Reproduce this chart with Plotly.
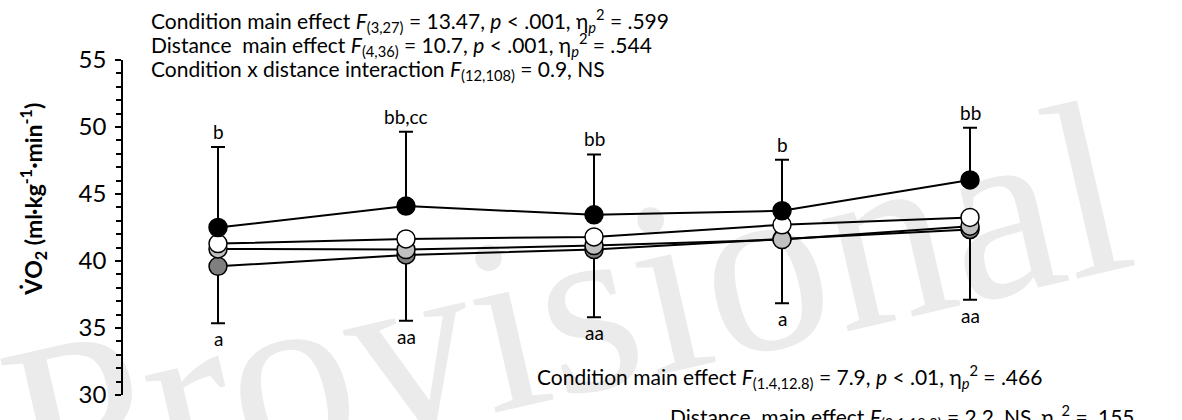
import plotly.graph_objects as go

# ---- data ----
distance_idx = [0, 1, 2, 3, 4]
cond_black = [42.5, 44.1, 43.45, 43.75, 46.05]
cond_white = [41.3, 41.65, 41.8, 42.7, 43.25]
cond_light = [40.9, 40.85, 41.15, 41.6, 42.6]
cond_dark = [39.6, 40.45, 40.85, 41.65, 42.35]
err_upper = [6.0, 5.55, 4.5, 3.8, 3.9]     # upper SD (black series)
err_lower = [4.25, 4.9, 5.05, 4.8, 5.25]    # lower SD (dark grey series)
labels_above = ["b", "bb,cc", "bb", "b", "bb"]
labels_below = ["a", "aa", "aa", "a", "aa"]
y_ticks = [30, 35, 40, 45, 50, 55]

W, H = 1182, 420
L, R, T, B = 123, 62, 60, 15
PW, PH = W - L - R, H - T - B
FONT = "Lato"


def px(x):
    return (x - L) / PW


def py(y):
    return (H - B - y) / PH


fig = go.Figure()

series = [
    (cond_dark, "#7f7f7f", dict(type="data", symmetric=False, array=[0] * 5, arrayminus=err_lower)),
    (cond_light, "#c0c0c0", None),
    (cond_white, "#ffffff", None),
    (cond_black, "#000000", dict(type="data", symmetric=False, array=err_upper, arrayminus=[0] * 5)),
]
for vals, col, err in series:
    tr = go.Scatter(
        x=distance_idx, y=vals, mode="lines+markers",
        line=dict(color="black", width=2),
        marker=dict(size=18, color=col, line=dict(color="black", width=1.5)),
        showlegend=False,
    )
    if err is not None:
        err.update(color="black", thickness=2, width=7)
        tr.error_y = err
    fig.add_trace(tr)

# letters above / below error bars
for i in distance_idx:
    top = cond_black[i] + err_upper[i]
    bot = cond_dark[i] - err_lower[i]
    fig.add_annotation(x=i, y=top, text=labels_above[i], showarrow=False,
                       yanchor="bottom", yshift=2, font=dict(family=FONT, size=19, color="black"))
    fig.add_annotation(x=i, y=bot, text=labels_below[i], showarrow=False,
                       yanchor="top", yshift=-2, font=dict(family=FONT, size=19, color="black"))

eta = "η<sub><i>p</i></sub><sup>2</sup>"
top_lines = [
    f"Condition main effect <i>F</i><sub>(3,27)</sub> = 13.47, <i>p</i> < .001, {eta} = .599",
    f"Distance  main effect <i>F</i><sub>(4,36)</sub> = 10.7, <i>p</i> < .001, {eta} = .544",
    "Condition x distance interaction <i>F</i><sub>(12,108)</sub> = 0.9, NS",
]
for k, txt in enumerate(top_lines):
    fig.add_annotation(xref="paper", yref="paper", x=px(149), y=py(19 + 25.5 * k), text=txt,
                       showarrow=False, xanchor="left", yanchor="middle",
                       font=dict(family=FONT, size=21, color="black"))

fig.add_annotation(xref="paper", yref="paper", x=px(535), y=py(386),
                   text=f"Condition main effect <i>F</i><sub>(1.4,12.8)</sub> = 7.9, <i>p</i> < .01, {eta} = .466",
                   showarrow=False, xanchor="left", yanchor="middle",
                   font=dict(family=FONT, size=21, color="black"))
fig.add_annotation(xref="paper", yref="paper", x=px(668), y=py(409),
                   text=f"Distance  main effect <i>F</i><sub>(2.1,18.9)</sub> = 2.2, NS, {eta} = .155",
                   showarrow=False, xanchor="left", yanchor="top",
                   font=dict(family=FONT, size=21, color="black"))

# y-axis title
fig.add_annotation(xref="paper", yref="paper", x=px(33), y=py(204), textangle=-90,
                   text="<b>V̇O<sub>2</sub> (ml·kg<sup>-1</sup>·min<sup>-1</sup>)</b>",
                   showarrow=False, xanchor="center", yanchor="middle",
                   font=dict(family=FONT, size=23, color="black"))

# watermark (behind the data)
fig.add_shape(type="rect", xref="paper", yref="paper",
              x0=px(360), x1=px(760), y0=py(390), y1=py(190),
              line=dict(width=0), fillcolor="rgba(0,0,0,0)", layer="below",
              label=dict(text="Provisional", textangle=-13, textposition="middle center",
                         font=dict(family="Liberation Serif", size=250, color="#ebebeb")))

fig.update_xaxes(range=[-95 / 188, (PW - 95) / 188], visible=False)
fig.update_yaxes(
    range=[30, 55], tickvals=y_ticks, ticks="outside", ticklen=6, tickwidth=1.5,
    tickcolor="black", showline=True, linecolor="black", linewidth=1.5,
    showgrid=False, zeroline=False, ticklabelstandoff=4,
    tickfont=dict(family=FONT, size=24, color="black"),
    minor=dict(dtick=1, ticks="outside", ticklen=5, tickwidth=1.5, tickcolor="black"),
)

fig.update_layout(width=W, height=H, margin=dict(l=L, r=R, t=T, b=B),
                  paper_bgcolor="white", plot_bgcolor="rgba(0,0,0,0)")

fig.write_html("out.html")
